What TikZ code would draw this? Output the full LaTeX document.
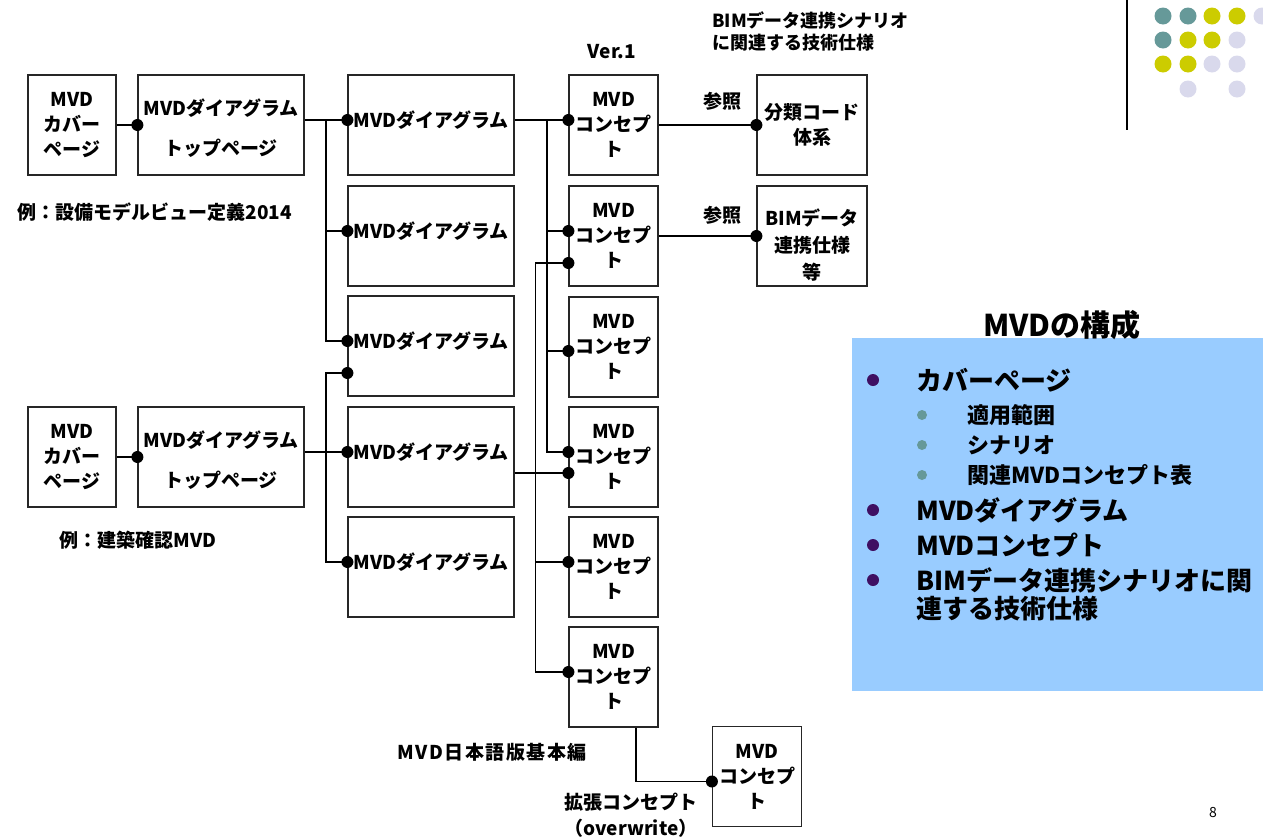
\documentclass[tikz,border=0pt]{standalone}
\usepackage{fontspec}
\setmainfont{Noto Sans CJK JP}
\usetikzlibrary{calc}
\definecolor{panelblue}{HTML}{99CCFF}
\definecolor{bulletpurple}{HTML}{3F0F62}
\definecolor{dotteal}{HTML}{669999}
\definecolor{dotyellow}{HTML}{CCCC00}
\definecolor{dotlilac}{HTML}{D9D9EC}
\newcommand{\boxfont}{\fontsize{19}{25}\selectfont\bfseries}

\begin{document}
\begin{tikzpicture}[x=1pt, y=-1pt,
  box/.style={draw=black!85, line width=1.2pt, inner sep=0pt, minimum height=100pt, align=center, font=\boxfont},
  dgbox/.style={box, minimum width=166pt},
  cpbox/.style={box, minimum width=89pt},
  boxtext/.style={inner sep=0pt, align=center, font=\boxfont},
  tag/.style={inner sep=0pt, align=center, font=\boxfont},
  item/.style={inner sep=0pt, anchor=west, align=left, font=\fontsize{26}{28}\selectfont\bfseries},
  subitem/.style={inner sep=0pt, anchor=west, font=\fontsize{22}{24}\selectfont\bfseries},
  jdot/.style={circle, fill=black, inner sep=0pt, minimum size=12pt},
  link/.style={line width=1.4pt}]
\useasboundingbox (0,0) rectangle (1263,839);
\clip (0,0) rectangle (1263,839);
% Draw cover and top page boxes
\node[box, minimum width=88pt] (cov1) at (72,125) {MVD\\カバー\\ページ};
\node[dgbox] (top1) at (221,125) {};
\node[boxtext] (topt1) at ([yshift=-3pt]top1.center) {MVDダイアグラム\\[15pt]トップページ};
\node[box, minimum width=88pt] (cov2) at (72,457) {MVD\\カバー\\ページ};
\node[dgbox] (top2) at (221,457) {};
\node[boxtext] (topt2) at ([yshift=-3pt]top2.center) {MVDダイアグラム\\[15pt]トップページ};
% Draw diagram boxes
\foreach \i/\yc in {1/125,2/236,3/346,4/457,5/567}{
  \node[dgbox] (dg\i) at (431,\yc) {};
  \node[boxtext] (dgt\i) at ([yshift=5pt]dg\i.center) {MVDダイアグラム};
  \coordinate (dgin\i) at ([yshift=5pt]dg\i.west);
}
% Draw concept boxes
\foreach \i/\yc in {1/125,2/236,3/347,4/457,5/567,6/677}{
  \node[cpbox] (cp\i) at (613.5,\yc) {MVD\\コンセプ\\ト};
  \coordinate (cpin\i) at ([yshift=5pt]cp\i.west);
}
\coordinate (cpin3) at ([yshift=-4pt]cp3.west);
\node[cpbox] (cpx) at (757,776.5) {MVD\\コンセプ\\ト};
\node[box, minimum width=110pt] (cls) at (812,125) {分類コード\\体系};
\node[box, minimum width=110pt] (bim) at (812,236) {};
\node[boxtext, font=\fontsize{19}{27}\selectfont\bfseries] (bimt) at ([yshift=-9pt]bim.center) {BIMデータ\\連携仕様\\等};
% Junction points
\coordinate (top1out) at ([yshift=5pt]top1.east);
\coordinate (top2out) at ([yshift=5pt]top2.east);
\coordinate (dg3low) at ([yshift=-27pt]dg3.west);
\coordinate (dg1out) at ([yshift=5pt]dg1.east);
\coordinate (dg4out) at ([yshift=-16pt]dg4.east);
\coordinate (cplow2) at ([yshift=-27pt]cp2.west);
\coordinate (cplow4) at ([yshift=-16pt]cp4.west);
\coordinate (cpxin) at ([yshift=-5pt]cpx.west);
\coordinate (cpdown) at ([xshift=22.5pt]cp6.south);
\coordinate (jA) at ($(top1out)!0.5!(dgin1)$);
\coordinate (jB) at ($(top2out)!0.5!(dgin4)$);
\coordinate (jC) at ($(dg1out)!0.6!(cpin1)$);
\coordinate (jD) at ($(cplow2)+(-33,0)$);
% Draw connectors
\draw[link] (cov1.east) -- (top1.west);
\draw[link] (cov2.east) -- (top2.west);
\draw[link] (top1out) -- (dgin1);
\draw[link] (jA) |- (dgin2);
\draw[link] (jA) |- (dgin3);
\draw[link] (top2out) -- (dgin4);
\draw[link] (jB) |- (dg3low);
\draw[link] (jB) |- (dgin5);
\draw[link] (dg1out) -- (cpin1);
\draw[link] (jC) |- (cpin2);
\draw[link] (jC) |- (cpin3);
\draw[link] (jC) |- (cpin4);
\draw[link] (cplow2) -- (jD) |- (cpin6);
\draw[link] (jD) |- (cpin5);
\draw[link] (dg4out) -- (cplow4);
\draw[link] (cpdown) |- (cpxin);
\draw[link] (cp1.east) -- (cls.west);
\draw[link] (cp2.east) -- (bim.west);
% Draw dots
\foreach \p [count=\k] in {top1.west, top2.west, dgin1, dgin2, dgin3, dgin4, dgin5, dg3low,
    cpin1, cpin2, cpin3, cpin4, cpin5, cpin6, cplow2, cplow4, cpxin, cls.west, bim.west}
  \node[jdot] (dot\k) at (\p) {};
% Labels
\node[tag] (ex1) at (155,212) {例：設備モデルビュー定義2014};
\node[tag] (ex2) at (138,540) {例：建築確認MVD};
\node[tag] (ver) at (612,52) {Ver.1};
\node[tag, anchor=west, align=left, font=\fontsize{18}{22}\selectfont\bfseries] (spec) at (712,31) {BIMデータ連携シナリオ\\に関連する技術仕様};
\node[tag] (ref1) at (722,101) {参照};
\node[tag] (ref2) at (722,215) {参照};
\node[tag, font=\boxfont\addfontfeature{LetterSpace=8}] (base) at (492,752) {MVD日本語版基本編};
\node[tag, font=\fontsize{19}{26}\selectfont\bfseries] (ext) at (631,815) {拡張コンセプト\\（overwrite）};
\node[inner sep=0pt, font=\fontsize{14}{16}\selectfont] (pg) at (1213,812) {8};
% Draw panel
\fill[panelblue] (852,338) rectangle (1263,691);
\node[inner sep=0pt, font=\fontsize{30}{32}\selectfont\bfseries] (ttl) at (1062,325) {MVDの構成};
\foreach \txt/\yy in {カバーページ/380, MVDダイアグラム/510, MVDコンセプト/545}{
  \fill[bulletpurple] (873,\yy) circle (6);
  \node[item] (it\yy) at (916,\yy) {\txt};
}
\fill[bulletpurple] (873,580) circle (6);
\node[item] (it580) at (916,594) {BIMデータ連携シナリオに関\\連する技術仕様};
\foreach \txt/\yy in {適用範囲/415, シナリオ/445, 関連MVDコンセプト表/475}{
  \fill[dotteal] (922,\yy) circle (5);
  \node[subitem] (sub\yy) at (967,\yy) {\txt};
}
% Draw corner decoration
\draw[line width=1.5pt] (1127,0) -- (1127,130);
\foreach \cx/\cy/\cl in {1163/16/dotteal, 1188/16/dotteal, 1212/16/dotyellow, 1237/16/dotyellow, 1262/16/dotlilac,
    1163/40/dotteal, 1188/40/dotyellow, 1212/40/dotyellow, 1237/40/dotlilac,
    1163/64/dotyellow, 1188/64/dotyellow, 1212/64/dotlilac, 1237/64/dotlilac,
    1188/89/dotlilac, 1237/89/dotlilac}
  \fill[\cl] (\cx,\cy) circle (8.5);
\end{tikzpicture}
\end{document}
